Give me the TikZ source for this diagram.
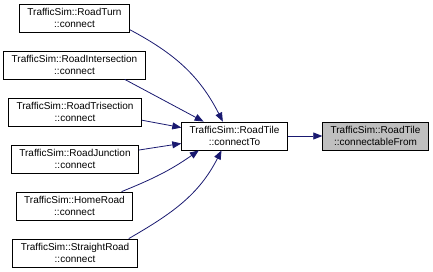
\documentclass[tikz,border=0pt]{standalone}
\usepackage{fontspec}
\setmainfont{Liberation Sans}
\usetikzlibrary{arrows.meta}
\definecolor{edgeblue}{HTML}{191970}
\definecolor{focusgray}{HTML}{BFBFBF}

\begin{document}
\begin{tikzpicture}[x=1pt,y=1pt,
    font=\fontsize{10}{11.5}\selectfont,
    fn/.style={draw=black,fill=white,align=center,inner xsep=8pt,inner ysep=0pt,
      minimum height=28pt,line width=0.8pt},
    focus/.style={fn,fill=focusgray},
    call/.style={draw=edgeblue,line width=0.8pt,
      -{Triangle[length=9pt,width=7pt,fill=edgeblue]}}]
    \useasboundingbox (0,0) rectangle (433,-272);

    % callers
    \node[fn] (turn) at (74.5,-18) {TrafficSim::RoadTurn\\::connect};
    \node[fn] (intersection) at (74.5,-65) {TrafficSim::RoadIntersection\\::connect};
    \node[fn] (trisection) at (75,-112) {TrafficSim::RoadTrisection\\::connect};
    \node[fn] (junction) at (75,-159) {TrafficSim::RoadJunction\\::connect};
    \node[fn] (home) at (74.5,-206) {TrafficSim::HomeRoad\\::connect};
    \node[fn] (straight) at (75,-253) {TrafficSim::StraightRoad\\::connect};

    \node[fn] (connectTo) at (234.5,-136) {TrafficSim::RoadTile\\::connectTo};
    \node[focus] (connectableFrom) at (375.5,-136) {TrafficSim::RoadTile\\::connectableFrom};

    \draw[call] (turn.-12) to[out=-28,in=117] (connectTo.129);
    \draw[call] (intersection.-16) -- (connectTo.155);
    \draw[call] (trisection.-7) -- (connectTo.171);
    \draw[call] (junction.8) -- (connectTo.188);
    \draw[call] (home.17) to[out=22,in=215] (connectTo.202);
    \draw[call] (straight.15) to[out=30,in=243] (connectTo.228);
    \draw[call] (connectTo) -- (connectableFrom);
  \end{tikzpicture}
\end{document}
